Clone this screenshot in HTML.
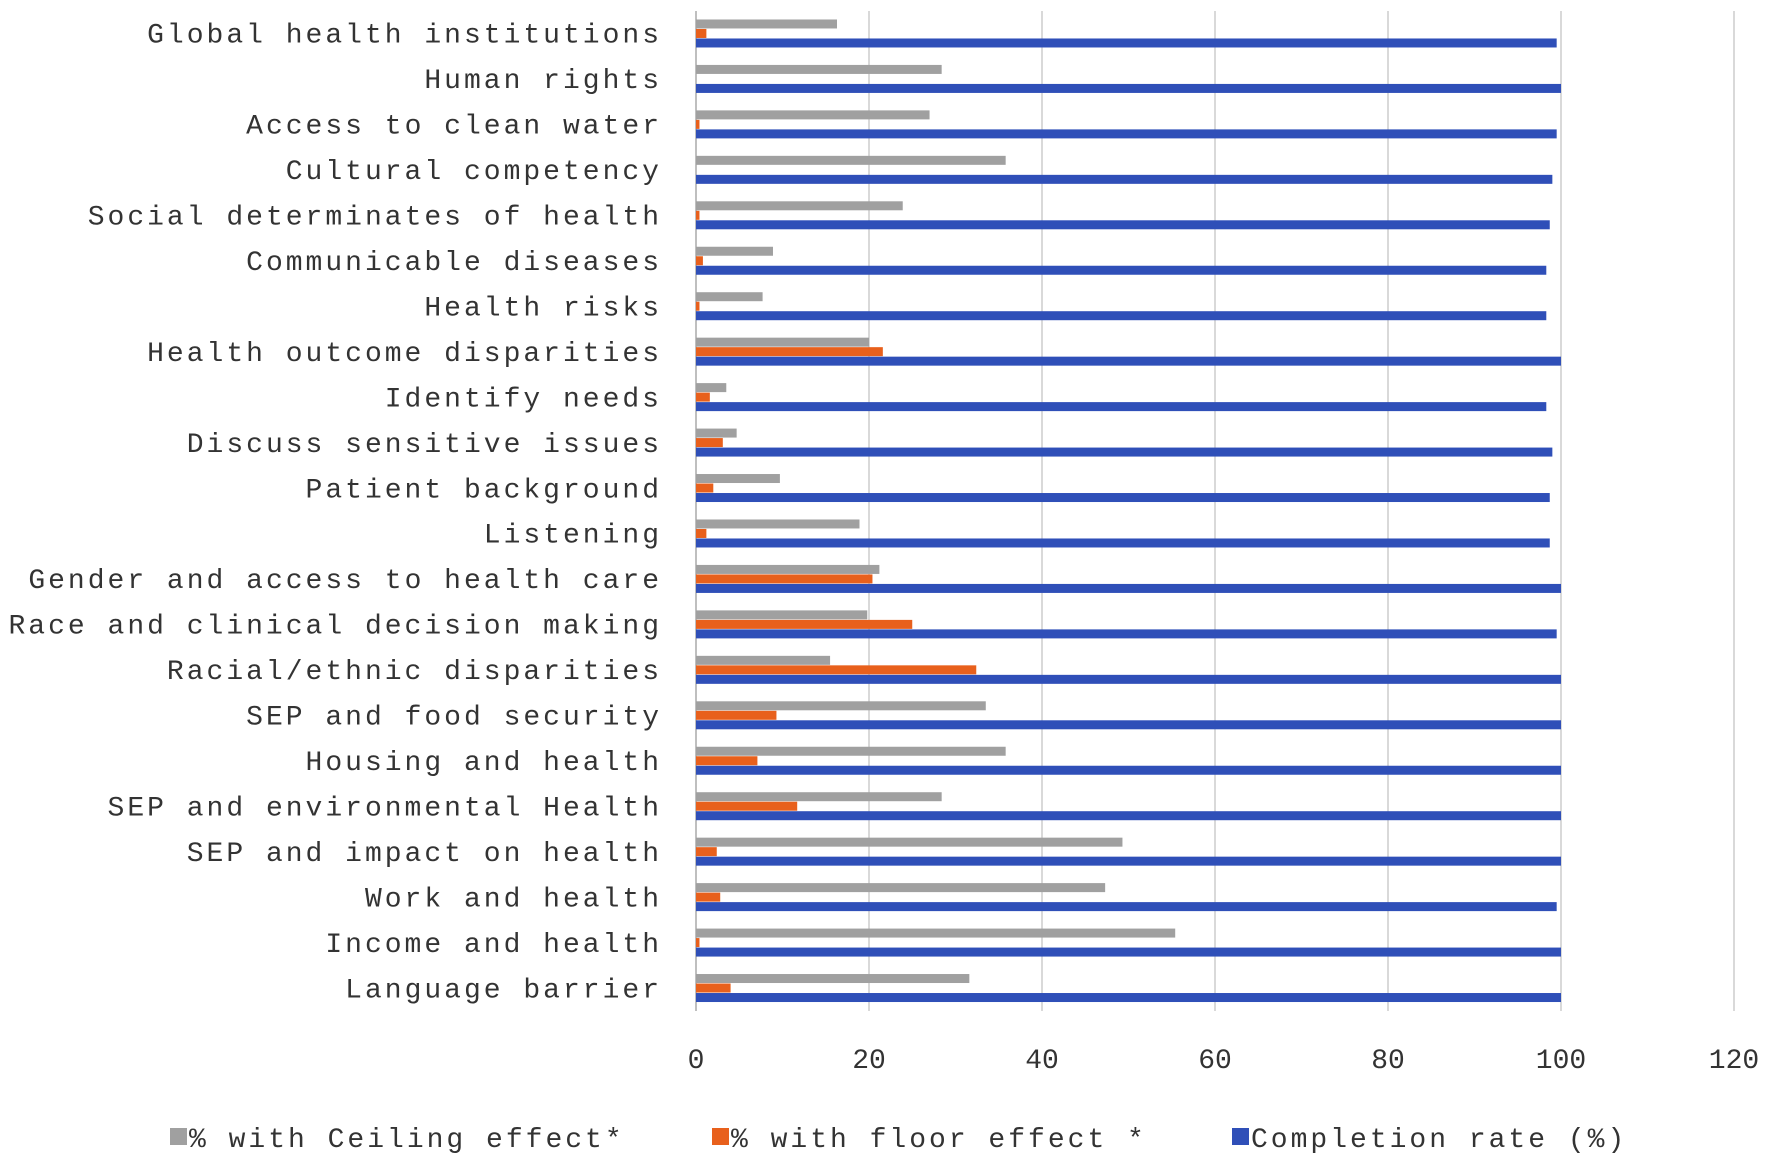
<!DOCTYPE html>
<html><head><meta charset="utf-8"><style>
body{margin:0;background:#fff}
svg text{font-family:"Liberation Mono","Noto Serif CJK SC",monospace;fill:#333}
</style></head><body>
<svg id="chart" width="1772" height="1166" xmlns="http://www.w3.org/2000/svg"></svg>
<script>
const categories=["Global health institutions","Human rights","Access to clean water","Cultural competency","Social determinates of health","Communicable diseases","Health risks","Health outcome disparities","Identify needs","Discuss sensitive issues","Patient background","Listening","Gender and access to health care","Race and clinical decision making","Racial/ethnic disparities","SEP and food security","Housing and health","SEP and environmental Health","SEP and impact on health","Work and health","Income and health","Language barrier"];
const ceiling=[16.3,28.4,27,35.8,23.9,8.9,7.7,20,3.5,4.7,9.7,18.9,21.2,19.8,15.5,33.5,35.8,28.4,49.3,47.3,55.4,31.6];
const floorEff=[1.2,0,0.4,0,0.4,0.8,0.4,21.6,1.6,3.1,2,1.2,20.4,25,32.4,9.3,7.1,11.7,2.4,2.8,0.4,4];
const completion=[99.5,100,99.5,99,98.7,98.3,98.3,100,98.3,99,98.7,98.7,100,99.5,100,100,100,100,100,99.5,100,100];
const ticks=[0,20,40,60,80,100,120];
const NS="http://www.w3.org/2000/svg";
const svg=document.getElementById('chart');
const x0=696,x1=1734,yTop=11,yBottom=1011;
const xs=v=>x0+(x1-x0)*v/120;
const band=(yBottom-yTop)/categories.length;
function mk(t,a){const e=document.createElementNS(NS,t);for(const k in a)e.setAttribute(k,a[k]);svg.appendChild(e);return e;}
ticks.forEach((t,i)=>{
  const l=mk('line',{x1:xs(t),x2:xs(t),y1:yTop,y2:yBottom,stroke:t===0?'#bfbfbf':'#d9d9d9','stroke-width':2});
  
  
  const tx=mk('text',{x:xs(t),y:1068,'text-anchor':'middle','font-size':28});
  tx.textContent=t;
  
  
});
const bh=9.5;
categories.forEach((c,i)=>{
  const bt=yTop+i*band;
  const lab=mk('text',{x:662,y:bt+band/2+9,'text-anchor':'end','font-size':28,'letter-spacing':3});
  lab.textContent=c;
  
  
  const g0=bt+(band-3*bh)/2;
  [[ceiling,'#a0a0a0','ceiling'],[floorEff,'#e8601c','floor'],[completion,'#2f4fb8','completion']].forEach((s,j)=>{
    const r=mk('rect',{x:xs(0),y:g0+j*bh,width:Math.max(0,xs(s[0][i])-xs(0)),height:bh-0.5,fill:s[1]});
    
    
  });
});
const legend=[["% with Ceiling effect*",'#a0a0a0',170],["% with floor effect *",'#e8601c',712],["Completion rate (%)",'#2f4fb8',1232]];
legend.forEach(l=>{
  const r=mk('rect',{x:l[2],y:1128,width:17,height:17,fill:l[1]});
  
  
  const t=mk('text',{x:l[2]+19,y:1147,'font-size':28,'letter-spacing':3});
  t.textContent=l[0];
  
  
});
</script>
</body></html>
